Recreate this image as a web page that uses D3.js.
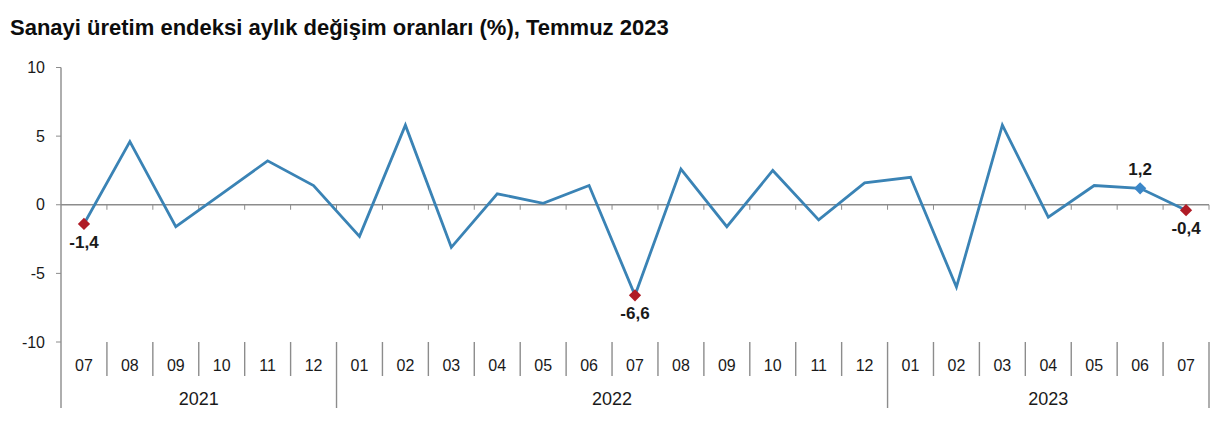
<!DOCTYPE html>
<html>
<head>
<meta charset="utf-8">
<script src="https://cdn.jsdelivr.net/npm/d3@7"></script>
<style>
  body { margin: 0; background: #fff; }
  text { font-family: "Liberation Sans", Arial, sans-serif; }
</style>
</head>
<body>
<svg id="chart" width="1228" height="430"></svg>
<script>
// months, 07/2021 .. 07/2023
var months = ["07","08","09","10","11","12","01","02","03","04","05","06","07","08","09","10","11","12","01","02","03","04","05","06","07"];
var years = ["2021","2021","2021","2021","2021","2021","2022","2022","2022","2022","2022","2022","2022","2022","2022","2022","2022","2022","2023","2023","2023","2023","2023","2023","2023"];
var values = [-1.4, 4.6, -1.6, 0.8, 3.2, 1.4, -2.3, 5.8, -3.1, 0.8, 0.1, 1.4, -6.6, 2.6, -1.6, 2.5, -1.1, 1.6, 2.0, -6.0, 5.8, -0.9, 1.4, 1.2, -0.4];
var yTicks = [10, 5, 0, -5, -10];
// highlighted points
var redPoints = [0, 12, 24];
var bluePoints = [23];

var svg = d3.select("#chart");

var plotLeft = 61, plotRight = 1209, plotTop = 67.5, plotBottom = 342;

var x = d3.scaleBand()
    .domain(d3.range(months.length))
    .range([plotLeft, plotRight]);

var y = d3.scaleLinear()
    .domain([-10, 10])
    .range([plotBottom, plotTop]);

var axisColor = "#8c8c8c",
    textColor = "#1a1a1a";

// title
svg.append("text")
    .attr("x", 10)
    .attr("y", 35)
    .attr("font-size", 22)
    .attr("font-weight", "bold")
    .attr("fill", "#0d0d0d")
    .text("Sanayi üretim endeksi aylık değişim oranları (%), Temmuz 2023");

// y axis
svg.append("line")
    .attr("x1", plotLeft).attr("x2", plotLeft)
    .attr("y1", y(10)).attr("y2", 408)
    .attr("stroke", axisColor).attr("stroke-width", 1.4);

svg.append("g").selectAll("line")
    .data(yTicks)
    .enter().append("line")
      .attr("x1", plotLeft - 5).attr("x2", plotLeft)
      .attr("y1", function(d) { return y(d); })
      .attr("y2", function(d) { return y(d); })
      .attr("stroke", axisColor);

svg.append("g").selectAll("text")
    .data(yTicks)
    .enter().append("text")
      .attr("x", 45)
      .attr("y", function(d) { return y(d); })
      .attr("dy", "0.35em")
      .attr("text-anchor", "end")
      .attr("font-size", 16)
      .attr("fill", textColor)
      .text(function(d) { return d; });

// zero line with ticks at band boundaries
svg.append("line")
    .attr("x1", plotLeft).attr("x2", plotRight)
    .attr("y1", y(0)).attr("y2", y(0))
    .attr("stroke", axisColor).attr("stroke-width", 1.4);

svg.append("g").selectAll("line")
    .data(d3.range(1, months.length + 1))
    .enter().append("line")
      .attr("x1", function(i) { return plotLeft + i * x.step(); })
      .attr("x2", function(i) { return plotLeft + i * x.step(); })
      .attr("y1", y(0)).attr("y2", y(0) + 5)
      .attr("stroke", axisColor);

// category separators
svg.append("g").selectAll("line")
    .data(d3.range(1, months.length + 1))
    .enter().append("line")
      .attr("x1", function(i) { return plotLeft + i * x.step(); })
      .attr("x2", function(i) { return plotLeft + i * x.step(); })
      .attr("y1", plotBottom)
      .attr("y2", function(i) { return (i === months.length || years[i] !== years[i - 1]) ? 408 : 376; })
      .attr("stroke", axisColor).attr("stroke-width", 1.4);

svg.append("g").selectAll("text")
    .data(months)
    .enter().append("text")
      .attr("x", function(d, i) { return x(i) + x.bandwidth() / 2; })
      .attr("y", 371)
      .attr("text-anchor", "middle")
      .attr("font-size", 16)
      .attr("fill", textColor)
      .text(function(d) { return d; });

// year labels centred on their group
var yearGroups = d3.groups(d3.range(months.length), function(i) { return years[i]; });
svg.append("g").selectAll("text")
    .data(yearGroups)
    .enter().append("text")
      .attr("x", function(g) {
        var idx = g[1];
        return (x(idx[0]) + x(idx[idx.length - 1]) + x.bandwidth()) / 2;
      })
      .attr("y", 405)
      .attr("text-anchor", "middle")
      .attr("font-size", 18)
      .attr("fill", textColor)
      .text(function(g) { return g[0]; });

// series line
var line = d3.line()
    .x(function(d, i) { return x(i) + x.bandwidth() / 2; })
    .y(function(d) { return y(d); });

svg.append("path")
    .datum(values)
    .attr("d", line)
    .attr("fill", "none")
    .attr("stroke", "#3a83b5")
    .attr("stroke-width", 2.8)
    .attr("stroke-linejoin", "miter");

// markers
var marked = redPoints.map(function(i) { return {i: i, c: "#b01c26"}; })
    .concat(bluePoints.map(function(i) { return {i: i, c: "#3b87c8"}; }));

svg.append("g").selectAll("path")
    .data(marked)
    .enter().append("path")
      .attr("d", d3.symbol().type(d3.symbolSquare).size(75))
      .attr("transform", function(d) {
        return "translate(" + (x(d.i) + x.bandwidth() / 2) + "," + y(values[d.i]) + ")rotate(45)";
      })
      .attr("fill", function(d) { return d.c; });

svg.append("g").selectAll("text")
    .data(marked)
    .enter().append("text")
      .attr("x", function(d) { return x(d.i) + x.bandwidth() / 2; })
      .attr("y", function(d) { return values[d.i] < 0 ? y(values[d.i]) + 24 : y(values[d.i]) - 13; })
      .attr("text-anchor", "middle")
      .attr("font-size", 17)
      .attr("font-weight", "bold")
      .attr("fill", textColor)
      .text(function(d) { return String(values[d.i]).replace(".", ","); });
</script>
</body>
</html>
